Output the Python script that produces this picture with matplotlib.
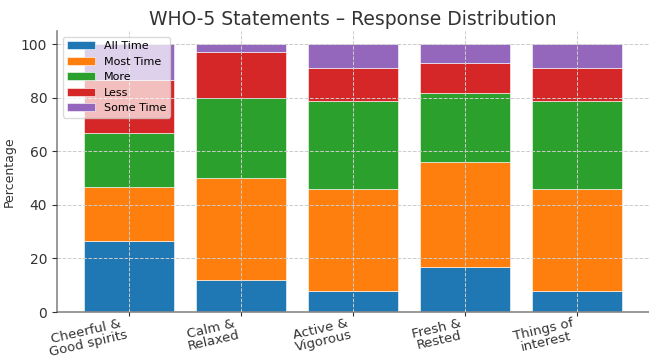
import matplotlib
matplotlib.use("Agg")
import matplotlib.pyplot as plt
import numpy as np

categories = ["Cheerful &\nGood spirits", "Calm &\nRelaxed", "Active &\nVigorous", "Fresh &\nRested", "Things of\ninterest"]
series_names = ["All Time", "Most Time", "More", "Less", "Some Time"]
all_time = [26.7, 12, 8, 17, 8]
most_time = [20, 38, 38, 39, 38]
more = [20, 30, 33, 26, 33]
less = [20, 17, 12, 11, 12]
some_time = [13.3, 3, 9, 7, 9]
colors = ["#1f77b4", "#ff7f0e", "#2ca02c", "#d62728", "#9467bd"]

fig = plt.figure(figsize=(6.49, 3.58), dpi=100)
ax = fig.add_axes([57/649, 1-312/358, 592/649, (312-31)/358])

x = np.arange(len(categories))
bottom = np.zeros(len(categories))
for name, vals, c in zip(series_names, [all_time, most_time, more, less, some_time], colors):
    ax.bar(x, vals, 0.8, bottom=bottom, color=c, label=name, edgecolor="white", linewidth=0.4, zorder=2)
    bottom += np.array(vals)

ax.set_ylim(0, 105)
ax.set_xticks(x)
ax.set_xticklabels(categories, rotation=13, ha="right", multialignment="center", fontsize=9.5, color="#333333",
                   linespacing=0.95)
ax.tick_params(axis="y", labelsize=10, colors="#333333")
ax.tick_params(axis="x", colors="#333333", pad=0.3, length=3)
ax.set_ylabel("Percentage", fontsize=9, color="#333333")
ax.set_title("WHO-5 Statements – Response Distribution", fontsize=13.5, color="#333333", pad=4)
ax.grid(True, linestyle="--", color="#cccccc", linewidth=0.7, zorder=0)
ax.set_axisbelow(False)
for s in ["top", "right"]:
    ax.spines[s].set_visible(False)
for s in ["left", "bottom"]:
    ax.spines[s].set_color("#888888")
    ax.spines[s].set_linewidth(1.2)
leg = ax.legend(loc="upper left", fontsize=8, framealpha=0.7, handlelength=2.5)
fig.savefig("out.png", dpi=100)
